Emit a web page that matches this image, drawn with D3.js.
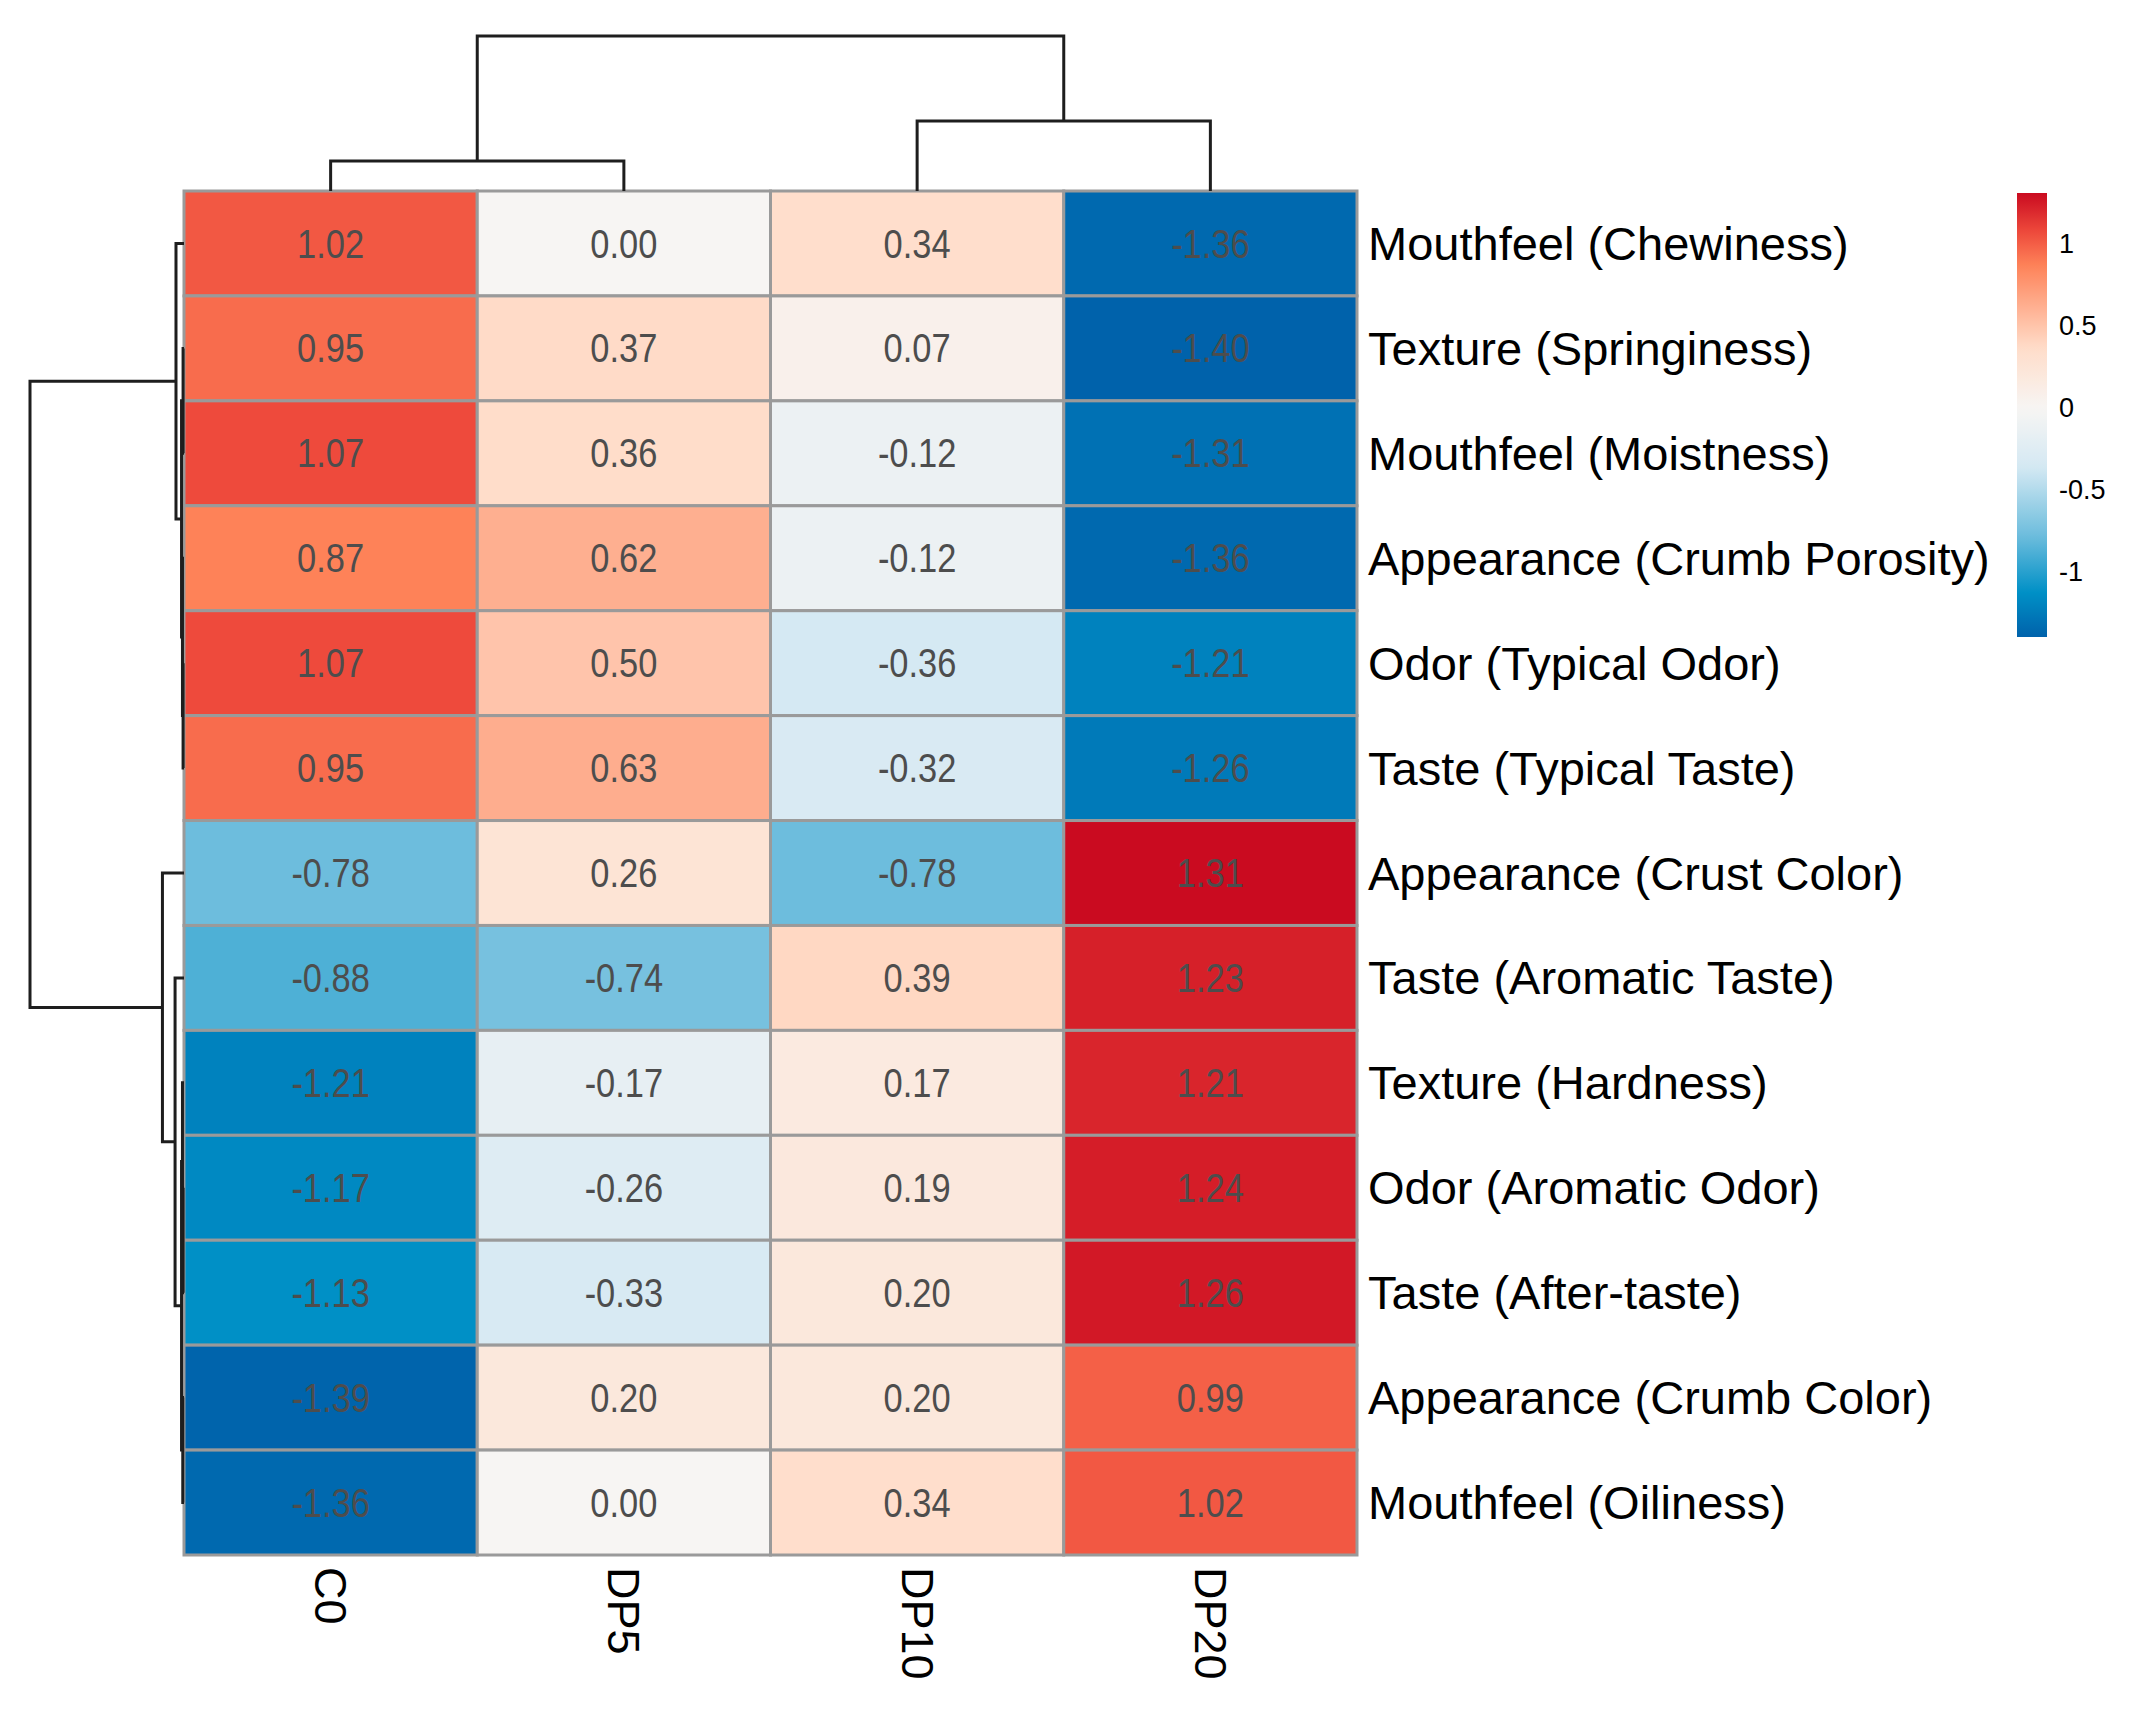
<!DOCTYPE html>
<html>
<head>
<meta charset="utf-8">
<script src="https://cdn.jsdelivr.net/npm/d3@7"></script>
<style>
  html, body { margin: 0; padding: 0; background: #fff; }
  svg { display: block; }
</style>
</head>
<body>
<svg id="chart" width="2132" height="1712"></svg>
<script>
// ---------------- DATA ----------------
const rowLabels = [
  "Mouthfeel (Chewiness)",
  "Texture (Springiness)",
  "Mouthfeel (Moistness)",
  "Appearance (Crumb Porosity)",
  "Odor (Typical Odor)",
  "Taste (Typical Taste)",
  "Appearance (Crust Color)",
  "Taste (Aromatic Taste)",
  "Texture (Hardness)",
  "Odor (Aromatic Odor)",
  "Taste (After-taste)",
  "Appearance (Crumb Color)",
  "Mouthfeel (Oiliness)"
];
const colLabels = ["C0", "DP5", "DP10", "DP20"];

const C0   = [1.02, 0.95, 1.07, 0.87, 1.07, 0.95, -0.78, -0.88, -1.21, -1.17, -1.13, -1.39, -1.36];
const DP5  = [0.00, 0.37, 0.36, 0.62, 0.50, 0.63, 0.26, -0.74, -0.17, -0.26, -0.33, 0.20, 0.00];
const DP10 = [0.34, 0.07, -0.12, -0.12, -0.36, -0.32, -0.78, 0.39, 0.17, 0.19, 0.20, 0.20, 0.34];
const DP20 = [-1.36, -1.40, -1.31, -1.36, -1.21, -1.26, 1.31, 1.23, 1.21, 1.24, 1.26, 0.99, 1.02];

const legendTicks = [-1, -0.5, 0, 0.5, 1];

// dendrogram merges (hclust style: negative = leaf index+1, positive = earlier merge), relative heights
const rowMerge = [
  [-2, -3, 0.006],
  [-5, -6, 0.006],
  [-4, 2, 0.010],
  [1, 3, 0.016],
  [-1, 4, 0.052],
  [-10, -11, 0.006],
  [-9, 6, 0.010],
  [-12, -13, 0.008],
  [7, 8, 0.016],
  [-8, 9, 0.058],
  [-7, 10, 0.140],
  [5, 11, 1.0]
];
const colMerge = [
  [-1, -2, 0.194],
  [-3, -4, 0.452],
  [1, 2, 1.0]
];

// colour ramp anchors (value -> colour)
const colorDomain = [-1.40, -1.13, -0.78, -0.36, 0, 0.36, 0.87, 1.07, 1.31];
const colorRange  = ["#0062ab", "#0090c6", "#6dbddd", "#d5e9f3", "#f7f5f3", "#ffddca", "#fe8258", "#ee4a3c", "#ca0b20"];

// ---------------- LAYOUT ----------------
const series = [C0, DP5, DP10, DP20];
const cells = [];
rowLabels.forEach((r, i) => colLabels.forEach((c, j) => cells.push({ row: r, col: c, v: series[j][i] })));

const hmLeft = 184, hmRight = 1357, hmTop = 191, hmBottom = 1555;

const svg = d3.select("#chart");
const x = d3.scaleBand().domain(colLabels).range([hmLeft, hmRight]);
const y = d3.scaleBand().domain(rowLabels).range([hmTop, hmBottom]);
const color = d3.scaleLinear().domain(colorDomain).range(colorRange).interpolate(d3.interpolateRgb).clamp(true);

const fontMain = "'Liberation Sans', Arial, Helvetica, sans-serif";

// cells
svg.append("g").selectAll("rect").data(cells).join("rect")
  .attr("x", d => x(d.col))
  .attr("y", d => y(d.row))
  .attr("width", x.bandwidth())
  .attr("height", y.bandwidth())
  .attr("fill", d => color(d.v))
  .attr("stroke", "#9a9a9a")
  .attr("stroke-width", 3);

// numbers (condensed look via horizontal scaling)
svg.append("g").selectAll("text").data(cells).join("text")
  .attr("transform", d => `translate(${x(d.col) + x.bandwidth() / 2},${y(d.row) + y.bandwidth() / 2}) scale(0.84,1)`)
  .attr("text-anchor", "middle")
  .attr("dominant-baseline", "central")
  .attr("font-family", fontMain)
  .attr("font-size", 41)
  .attr("fill", "#4d4d4d")
  .text(d => d.v.toFixed(2));

// row labels
svg.append("g").selectAll("text").data(rowLabels).join("text")
  .attr("x", hmRight + 11)
  .attr("y", d => y(d) + y.bandwidth() / 2)
  .attr("dominant-baseline", "central")
  .attr("font-family", fontMain)
  .attr("font-size", 47)
  .attr("fill", "#000")
  .text(d => d);

// column labels (rotated)
svg.append("g").selectAll("text").data(colLabels).join("text")
  .attr("transform", d => `translate(${x(d) + x.bandwidth() / 2},${hmBottom + 12}) rotate(90)`)
  .attr("dominant-baseline", "central")
  .attr("font-family", fontMain)
  .attr("font-size", 45)
  .attr("fill", "#000")
  .text(d => d);

// ---------------- DENDROGRAMS ----------------
function buildTree(merge, leafPos) {
  const nodes = [];
  const get = k => k < 0 ? { pos: leafPos(-k - 1), h: 0 } : nodes[k - 1];
  merge.forEach(([a, b, h]) => {
    const A = get(a), B = get(b);
    nodes.push({ a: A, b: B, h, pos: (A.pos + B.pos) / 2 });
  });
  return nodes;
}
const rowNodes = buildTree(rowMerge, i => y(rowLabels[i]) + y.bandwidth() / 2);
const colNodes = buildTree(colMerge, j => x(colLabels[j]) + x.bandwidth() / 2);

const hRow = d3.scaleLinear().domain([0, 1]).range([hmLeft, 30]);
const hCol = d3.scaleLinear().domain([0, 1]).range([hmTop, 36]);

const dg = svg.append("g").attr("fill", "none").attr("stroke", "#1e1e1e").attr("stroke-width", 3);
dg.selectAll("path.r").data(rowNodes).join("path").attr("class", "r")
  .attr("d", n => {
    const p = d3.path();
    p.moveTo(hRow(n.a.h), n.a.pos);
    p.lineTo(hRow(n.h), n.a.pos);
    p.lineTo(hRow(n.h), n.b.pos);
    p.lineTo(hRow(n.b.h), n.b.pos);
    return p.toString();
  });
dg.selectAll("path.c").data(colNodes).join("path").attr("class", "c")
  .attr("d", n => {
    const p = d3.path();
    p.moveTo(n.a.pos, hCol(n.a.h));
    p.lineTo(n.a.pos, hCol(n.h));
    p.lineTo(n.b.pos, hCol(n.h));
    p.lineTo(n.b.pos, hCol(n.b.h));
    return p.toString();
  });

// ---------------- LEGEND ----------------
const allVals = series.flat();
const vMin = d3.min(allVals), vMax = d3.max(allVals);
const legX = 2017, legW = 30, legTop = 193, legBottom = 637;
const ly = d3.scaleLinear().domain([vMin, vMax]).range([legBottom, legTop]);

const defs = svg.append("defs");
const grad = defs.append("linearGradient").attr("id", "lg")
  .attr("x1", 0).attr("y1", 1).attr("x2", 0).attr("y2", 0);
d3.range(0, 1.0001, 0.02).forEach(t => {
  grad.append("stop").attr("offset", t).attr("stop-color", color(vMin + t * (vMax - vMin)));
});
svg.append("rect").attr("x", legX).attr("y", legTop).attr("width", legW)
  .attr("height", legBottom - legTop).attr("fill", "url(#lg)");

const axis = d3.axisRight(ly).tickValues(legendTicks).tickSize(0).tickPadding(12)
  .tickFormat(d => String(d));
const ag = svg.append("g").attr("transform", `translate(${legX + legW},0)`).call(axis);
ag.select(".domain").remove();
ag.selectAll("text").attr("font-family", fontMain).attr("font-size", 27).attr("fill", "#000");
</script>
</body>
</html>
